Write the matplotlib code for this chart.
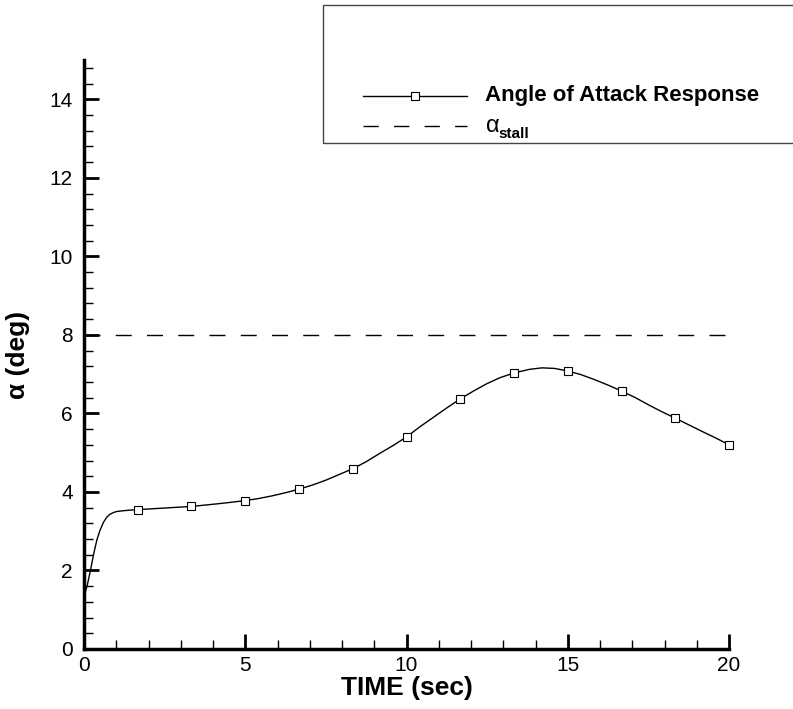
import matplotlib.pyplot as plt
from matplotlib.patches import Rectangle

plt.rcParams['font.family'] = ['Liberation Sans', 'DejaVu Sans']

# angle of attack response
time = [0, 0.1, 0.2, 0.3, 0.4, 0.5, 0.6, 0.7, 0.8, 0.9, 1.0, 1.2, 1.4, 1.667,
        2.1, 2.5, 2.9, 3.333, 3.75, 4.167, 4.6, 5.0, 5.4, 5.833, 6.25, 6.667,
        7.1, 7.5, 7.9, 8.333, 8.75, 9.167, 9.6, 10.0, 10.4, 10.833, 11.25, 11.667,
        12.1, 12.5, 12.9, 13.333, 13.8, 14.2, 14.6, 15.0, 15.4, 15.833, 16.25,
        16.667, 17.1, 17.5, 17.9, 18.333, 18.75, 19.167, 19.6, 20.0]
alpha = [1.33, 1.62, 2.0, 2.42, 2.78, 3.03, 3.22, 3.35, 3.43, 3.47, 3.50, 3.52, 3.535, 3.55,
         3.57, 3.59, 3.61, 3.63, 3.665, 3.70, 3.74, 3.78, 3.83, 3.90, 3.98, 4.07,
         4.18, 4.30, 4.44, 4.59, 4.77, 4.98, 5.19, 5.40, 5.65, 5.90, 6.14, 6.37,
         6.58, 6.76, 6.91, 7.03, 7.12, 7.16, 7.145, 7.08, 6.99, 6.86, 6.72,
         6.57, 6.40, 6.22, 6.05, 5.88, 5.71, 5.54, 5.37, 5.20]

# symbols drawn every 20/12 s
mark_time = [1.667, 3.333, 5.0, 6.667, 8.333, 10.0, 11.667, 13.333, 15.0, 16.667, 18.333, 20.0]
mark_alpha = [3.55, 3.63, 3.78, 4.07, 4.59, 5.40, 6.37, 7.03, 7.08, 6.57, 5.88, 5.20]

alpha_stall = 8.0

fig = plt.figure(figsize=(7.93, 7.09), dpi=100)
ax = fig.add_axes([84 / 793, 1 - 649 / 709, (729 - 84) / 793, (649 - 60) / 709])

ax.plot(time, alpha, color='black', lw=1.0)
ax.plot(mark_time, mark_alpha, ls='none', marker='s', ms=6, mfc='white', mec='black',
        mew=0.8, clip_on=False)
ax.plot([0, 20], [alpha_stall, alpha_stall], color='black', lw=1.0, dashes=(11.5, 11))

ax.set_xlim(0, 20)
ax.set_ylim(0, 15)
ax.set_xticks([0, 5, 10, 15, 20])
ax.set_xticks(range(0, 21), minor=True)
ax.set_yticks([0, 2, 4, 6, 8, 10, 12, 14])
ax.set_yticks([i * 0.4 for i in range(38)], minor=True)

for side in ['top', 'right']:
    ax.spines[side].set_visible(False)
for side in ['left', 'bottom']:
    ax.spines[side].set_linewidth(2.5)

ax.tick_params(which='major', direction='in', length=11, width=2, labelsize=15)
ax.tick_params(which='minor', direction='in', length=6.5, width=1)
ax.tick_params(axis='y', which='major', pad=8)
ax.tick_params(axis='x', which='major', pad=5)

ax.set_xlabel('TIME (sec)', fontsize=19, fontweight='bold', labelpad=1)
ax.set_ylabel('α (deg)', fontsize=19, fontweight='bold', labelpad=14)

# legend box, running off the right edge
fig.patches.append(Rectangle((323 / 793, 1 - 143 / 709), 0.65, 138 / 709,
                             transform=fig.transFigure, fill=False,
                             edgecolor='#444444', lw=1.0))
ly1 = 1 - 96 / 709
ly2 = 1 - 126 / 709
fig.add_artist(plt.Line2D([363 / 793, 467 / 793], [ly1, ly1], color='black', lw=1.0,
                          transform=fig.transFigure))
fig.add_artist(plt.Line2D([415 / 793], [ly1], ls='none', marker='s', ms=6, mfc='white',
                          mec='black', mew=0.8, transform=fig.transFigure))
fig.add_artist(plt.Line2D([363 / 793, 467 / 793], [ly2, ly2], color='black', lw=1.0,
                          dashes=(11, 11), transform=fig.transFigure))
fig.text(485 / 793, ly1, 'Angle of Attack Response', fontsize=16, fontweight='bold',
         va='center', ha='left')
fig.text(486 / 793, ly2, 'α', fontsize=17, va='center', ha='left')
fig.text(498 / 793, ly2 - 0.011, 'stall', fontsize=11, fontweight='bold',
         va='center', ha='left')

fig.savefig('out.png', dpi=100)
